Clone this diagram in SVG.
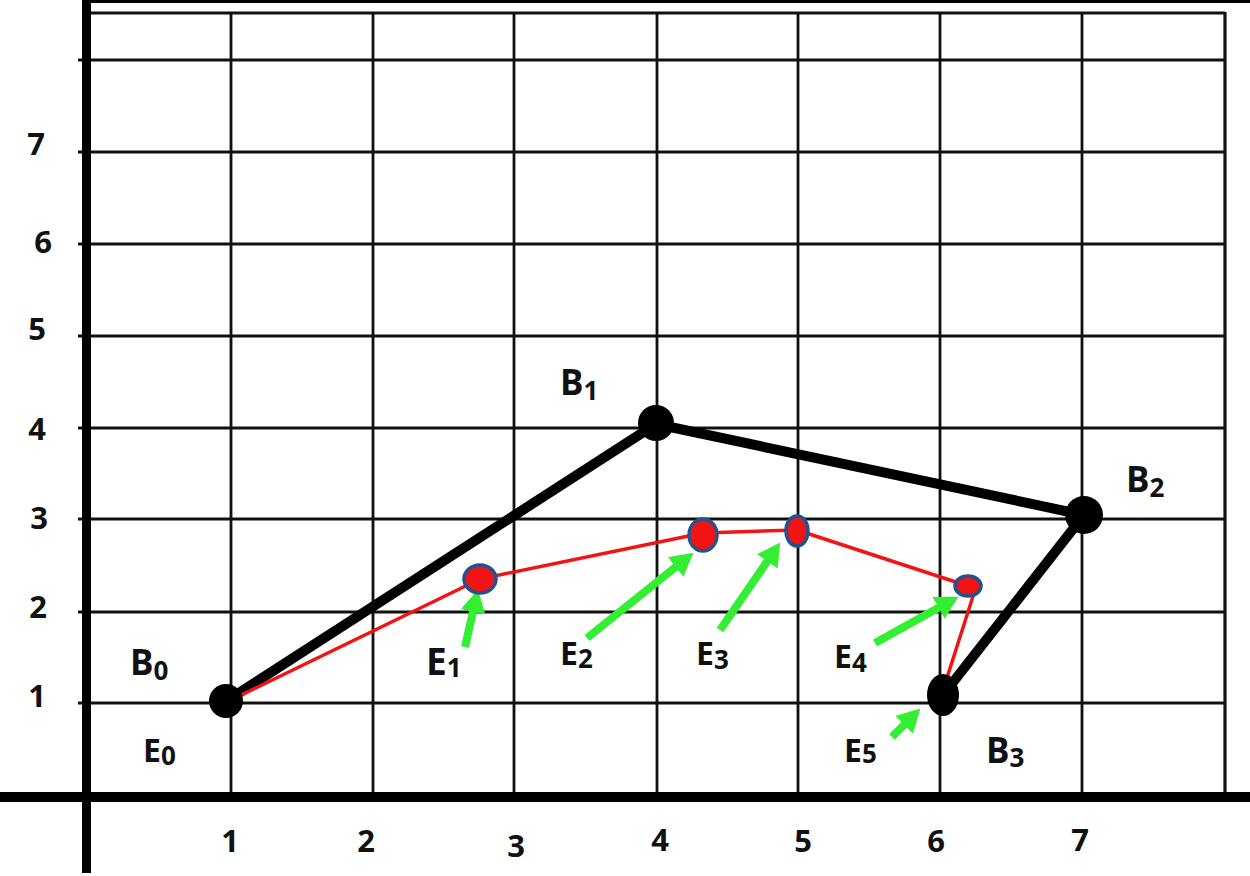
<svg xmlns="http://www.w3.org/2000/svg" width="1250" height="876" viewBox="0 0 1250 876">
<style>
.grid line{stroke:#111;stroke-width:2.8}
.axis{stroke:#000;stroke-linecap:butt}
.lbl{font-family:"Open Sans","Liberation Sans",sans-serif;font-weight:bold;fill:#111}
.num{font-size:31px}
.big{font-size:35px}
.sub{font-size:26px}
.blk{stroke:#000;stroke-width:10;fill:none;stroke-linejoin:round}
.red{stroke:#f21414;stroke-width:3.5;fill:none;stroke-linejoin:round}
.grn{stroke:#33ee33;stroke-width:8;marker-end:url(#ah)}
.dot{fill:#f21414;stroke:#25528f;stroke-width:3.5}
.blob{fill:#000}
</style>
<defs>
<marker id="ah" markerUnits="userSpaceOnUse" markerWidth="25" markerHeight="27" refX="8" refY="12" orient="auto" viewBox="0 0 24 24">
<path d="M0,0 L22,12 L0,24 z" fill="#33ee33"/>
</marker>
</defs>
<rect width="1250" height="876" fill="#fff"/>
<g id="grid" class="grid">
<line x1="86" y1="13" x2="1225" y2="13"/>
<line x1="78" y1="60" x2="1225" y2="60"/>
<line x1="78" y1="152" x2="1225" y2="152"/>
<line x1="78" y1="244" x2="1225" y2="244"/>
<line x1="78" y1="336" x2="1225" y2="336"/>
<line x1="78" y1="428" x2="1225" y2="428"/>
<line x1="78" y1="519" x2="1225" y2="519"/>
<line x1="78" y1="612" x2="1225" y2="612"/>
<line x1="78" y1="703" x2="1225" y2="703"/>
<line x1="231" y1="13" x2="231" y2="797"/>
<line x1="373" y1="13" x2="373" y2="797"/>
<line x1="514" y1="13" x2="514" y2="797"/>
<line x1="657" y1="13" x2="657" y2="797"/>
<line x1="798" y1="13" x2="798" y2="797"/>
<line x1="940" y1="13" x2="940" y2="797"/>
<line x1="1082" y1="13" x2="1082" y2="797"/>
<line x1="1225" y1="12" x2="1225" y2="797" style="stroke-width:3.2"/>
</g>
<g id="axes">
<line class="axis" x1="86" y1="1.5" x2="1250" y2="1.5" stroke-width="3"/>
<line class="axis" x1="86.5" y1="0" x2="86.5" y2="873" stroke-width="9"/>
<line class="axis" x1="0" y1="797" x2="1250" y2="797" stroke-width="10"/>
</g>
<g id="axis-labels" class="lbl num">
<text x="36" y="155" text-anchor="middle">7</text>
<text x="43" y="253" text-anchor="middle">6</text>
<text x="37" y="340" text-anchor="middle">5</text>
<text x="37" y="440" text-anchor="middle">4</text>
<text x="39" y="529" text-anchor="middle">3</text>
<text x="38" y="618" text-anchor="middle">2</text>
<text x="37" y="707" text-anchor="middle">1</text>
<text x="230" y="852" text-anchor="middle">1</text>
<text x="366" y="852" text-anchor="middle">2</text>
<text x="516" y="857" text-anchor="middle">3</text>
<text x="660" y="851" text-anchor="middle">4</text>
<text x="803" y="852" text-anchor="middle">5</text>
<text x="936" y="852" text-anchor="middle">6</text>
<text x="1080" y="851" text-anchor="middle">7</text>
</g>
<g id="connectors">
<polyline class="blk" points="228,700 656,424 1084,515 943,695"/>
<polyline class="red" points="231,700 480,579 703,533 797,530 968,586 975,590 945,684"/>
<line class="grn" x1="465" y1="647" x2="474.9" y2="603.6"/>
<line class="grn" x1="587" y1="638" x2="682.1" y2="561.8"/>
<line class="grn" x1="720" y1="630" x2="772" y2="554.5"/>
<line class="grn" x1="875" y1="643" x2="945.8" y2="603.8"/>
<line class="grn" x1="892" y1="737" x2="910.1" y2="718.9"/>
</g>
<g id="B0">
<circle class="blob" cx="226" cy="701" r="17"/>
<text class="lbl big" x="130" y="675">B<tspan class="sub" dy="5">0</tspan></text>
</g>
<g id="B1">
<circle class="blob" cx="656" cy="423" r="18"/>
<text class="lbl big" x="560" y="395">B<tspan class="sub" dy="5">1</tspan></text>
</g>
<g id="B2">
<circle class="blob" cx="1084" cy="515" r="19"/>
<text class="lbl big" x="1126" y="492">B<tspan class="sub" dy="5">2</tspan></text>
</g>
<g id="B3">
<ellipse class="blob" cx="943" cy="695" rx="16" ry="21"/>
<text class="lbl big" x="986" y="763">B<tspan class="sub" dy="4">3</tspan></text>
</g>
<g id="E0">
<text class="lbl" x="143" y="762" style="font-size:32px">E<tspan class="sub" dy="3">0</tspan></text>
</g>
<g id="E1">
<ellipse class="dot" cx="480" cy="579" rx="16" ry="14"/>
<text class="lbl" x="426" y="675" style="font-size:37px">E<tspan class="sub" dy="2">1</tspan></text>
</g>
<g id="E2">
<ellipse class="dot" cx="703" cy="535" rx="14" ry="16"/>
<text class="lbl" x="560" y="665" style="font-size:32px">E<tspan class="sub" dy="3">2</tspan></text>
</g>
<g id="E3">
<ellipse class="dot" cx="797" cy="531" rx="11" ry="15"/>
<text class="lbl" x="696" y="665" style="font-size:32px">E<tspan class="sub" dy="4">3</tspan></text>
</g>
<g id="E4">
<ellipse class="dot" cx="968" cy="586" rx="13" ry="10"/>
<text class="lbl" x="834" y="668" style="font-size:32px">E<tspan class="sub" dy="4">4</tspan></text>
</g>
<g id="E5">
<text class="lbl" x="844" y="762" style="font-size:32px">E<tspan class="sub" dy="1">5</tspan></text>
</g>
</svg>
